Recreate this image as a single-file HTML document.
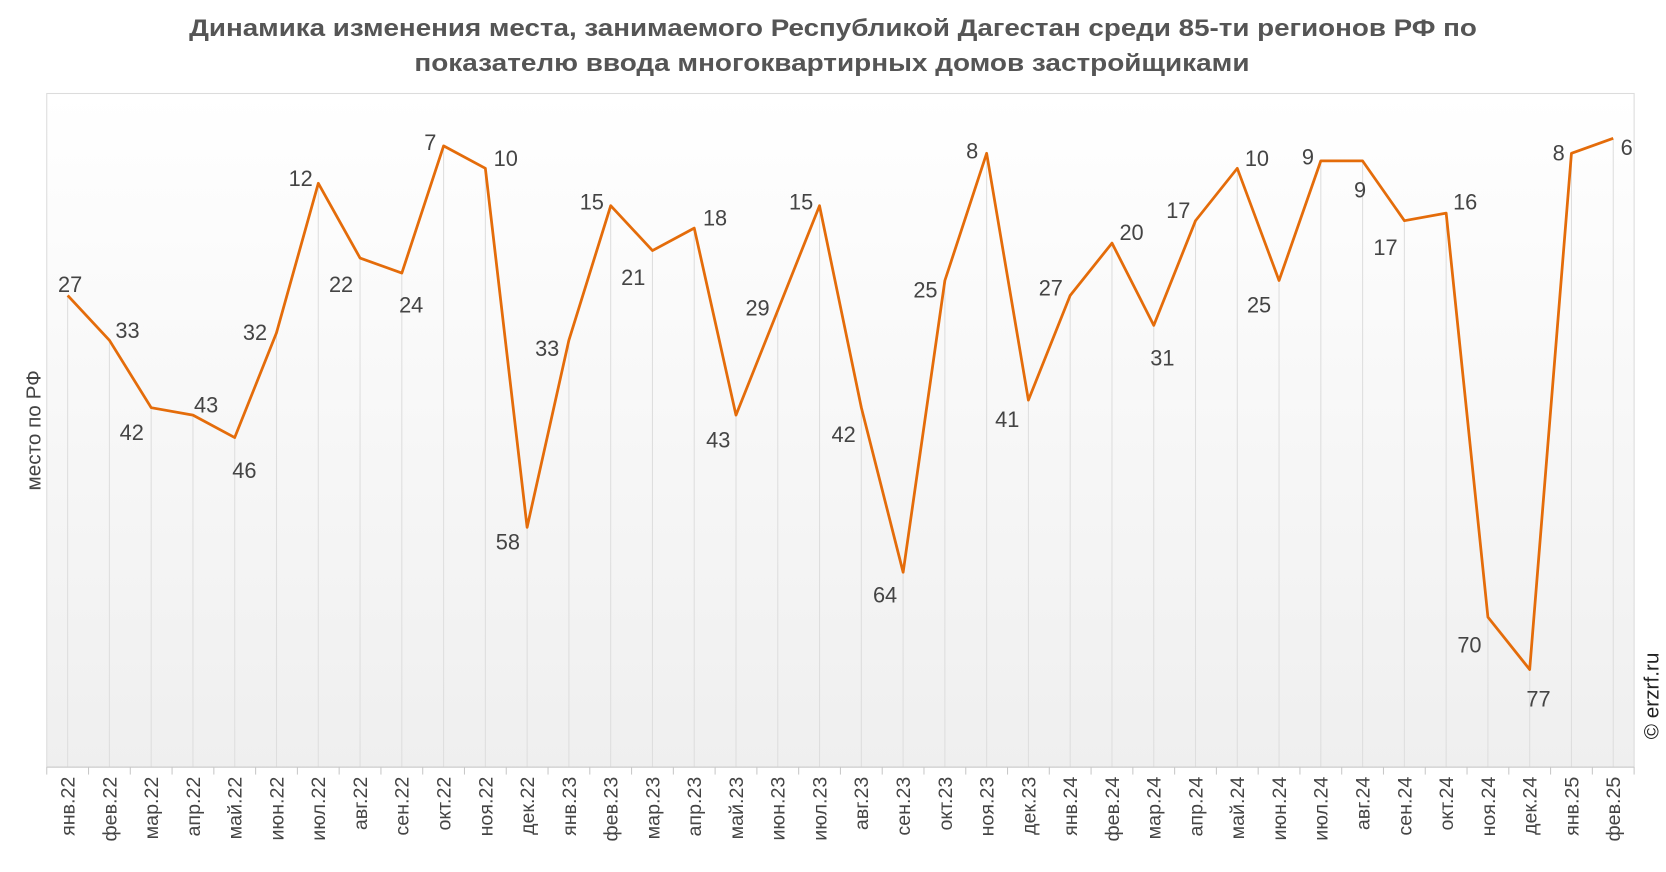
<!DOCTYPE html><html><head><meta charset="utf-8"><style>html,body{margin:0;padding:0;background:#fff}svg{display:block}</style></head><body>
<svg width="1666" height="872" viewBox="0 0 1568 820.7" xmlns="http://www.w3.org/2000/svg" font-family="Liberation Sans, sans-serif">
<defs><linearGradient id="g" x1="0" y1="0" x2="0" y2="1"><stop offset="0" stop-color="#ffffff"/><stop offset="1" stop-color="#efefef"/></linearGradient></defs>
<rect x="44" y="88" width="1494" height="634" fill="url(#g)" stroke="#dcdcdc" stroke-width="1"/>
<g id="grid" stroke="#dedede" stroke-width="1"></g>
<g id="ticks" stroke="#c8c8c8" stroke-width="1"></g>
<line x1="44" y1="722" x2="1538" y2="722" stroke="#c8c8c8"/>
<polyline id="ln" fill="none" stroke="#e46c0a" stroke-width="2.6" stroke-linejoin="round"/>
<g id="lbl" font-size="20.5" fill="#444" text-anchor="middle"></g>
<g id="xl" font-size="18.5" fill="#444" text-anchor="end"></g>
<text x="178" y="34" font-size="23" font-weight="bold" fill="#555" textLength="1212" lengthAdjust="spacingAndGlyphs">Динамика изменения места, занимаемого Республикой Дагестан среди 85-ти регионов РФ по</text>
<text x="390" y="67" font-size="23" font-weight="bold" fill="#555" textLength="786" lengthAdjust="spacingAndGlyphs">показателю ввода многоквартирных домов застройщиками</text>
<text transform="translate(38,405) rotate(-90)" font-size="19.5" fill="#444" text-anchor="middle">место по РФ</text>
<text transform="translate(1561,655) rotate(-90)" font-size="19.5" fill="#222" text-anchor="middle">© erzrf.ru</text>
</svg>
<script>
var d=[27,33,42,43,46,32,12,22,24,7,10,58,33,15,21,18,43,29,15,42,64,25,8,41,27,20,31,17,10,25,9,9,17,16,70,77,8,6];
var L=[[66,268],[120,311],[124,407],[194,381],[230,443],[240,313],[283,168],[321,268],[387,287],[405,134],[476,149],[478,510],[515,328],[557,190],[596,261],[673,205],[676,414],[713,290],[754,190],[794,409],[833,560],[871,273],[915,142],[948,395],[989,271],[1065,219],[1094,337],[1109,198],[1183,149],[1185,287],[1231,148],[1280,179],[1304,233],[1379,190],[1383,607],[1448,658],[1467,144],[1531,139]];
var m=["янв","фев","мар","апр","май","июн","июл","авг","сен","окт","ноя","дек"];
var w=1494/38,pts=[],ns="http://www.w3.org/2000/svg";
function el(p,t,a,tx){var e=document.createElementNS(ns,t);for(var k in a)e.setAttribute(k,a[k]);if(tx)e.textContent=tx;document.getElementById(p).appendChild(e);}
for(var i=0;i<38;i++){var x=44+w*(i+0.5),y=88+d[i]*7.04;pts.push(x.toFixed(1)+","+y.toFixed(1));
el("grid","line",{x1:x,y1:y,x2:x,y2:722});
el("ticks","line",{x1:44+w*i,y1:722,x2:44+w*i,y2:729});
el("lbl","text",{x:L[i][0],y:L[i][1]+7},d[i]);
var mo=m[i%12]+"."+(22+Math.floor(i/12));
el("xl","text",{transform:"translate("+(x+6.5)+",731) rotate(-90)"},mo);}
el("ticks","line",{x1:1538,y1:722,x2:1538,y2:729});
document.getElementById("ln").setAttribute("points",pts.join(" "));
</script>
</body></html>
